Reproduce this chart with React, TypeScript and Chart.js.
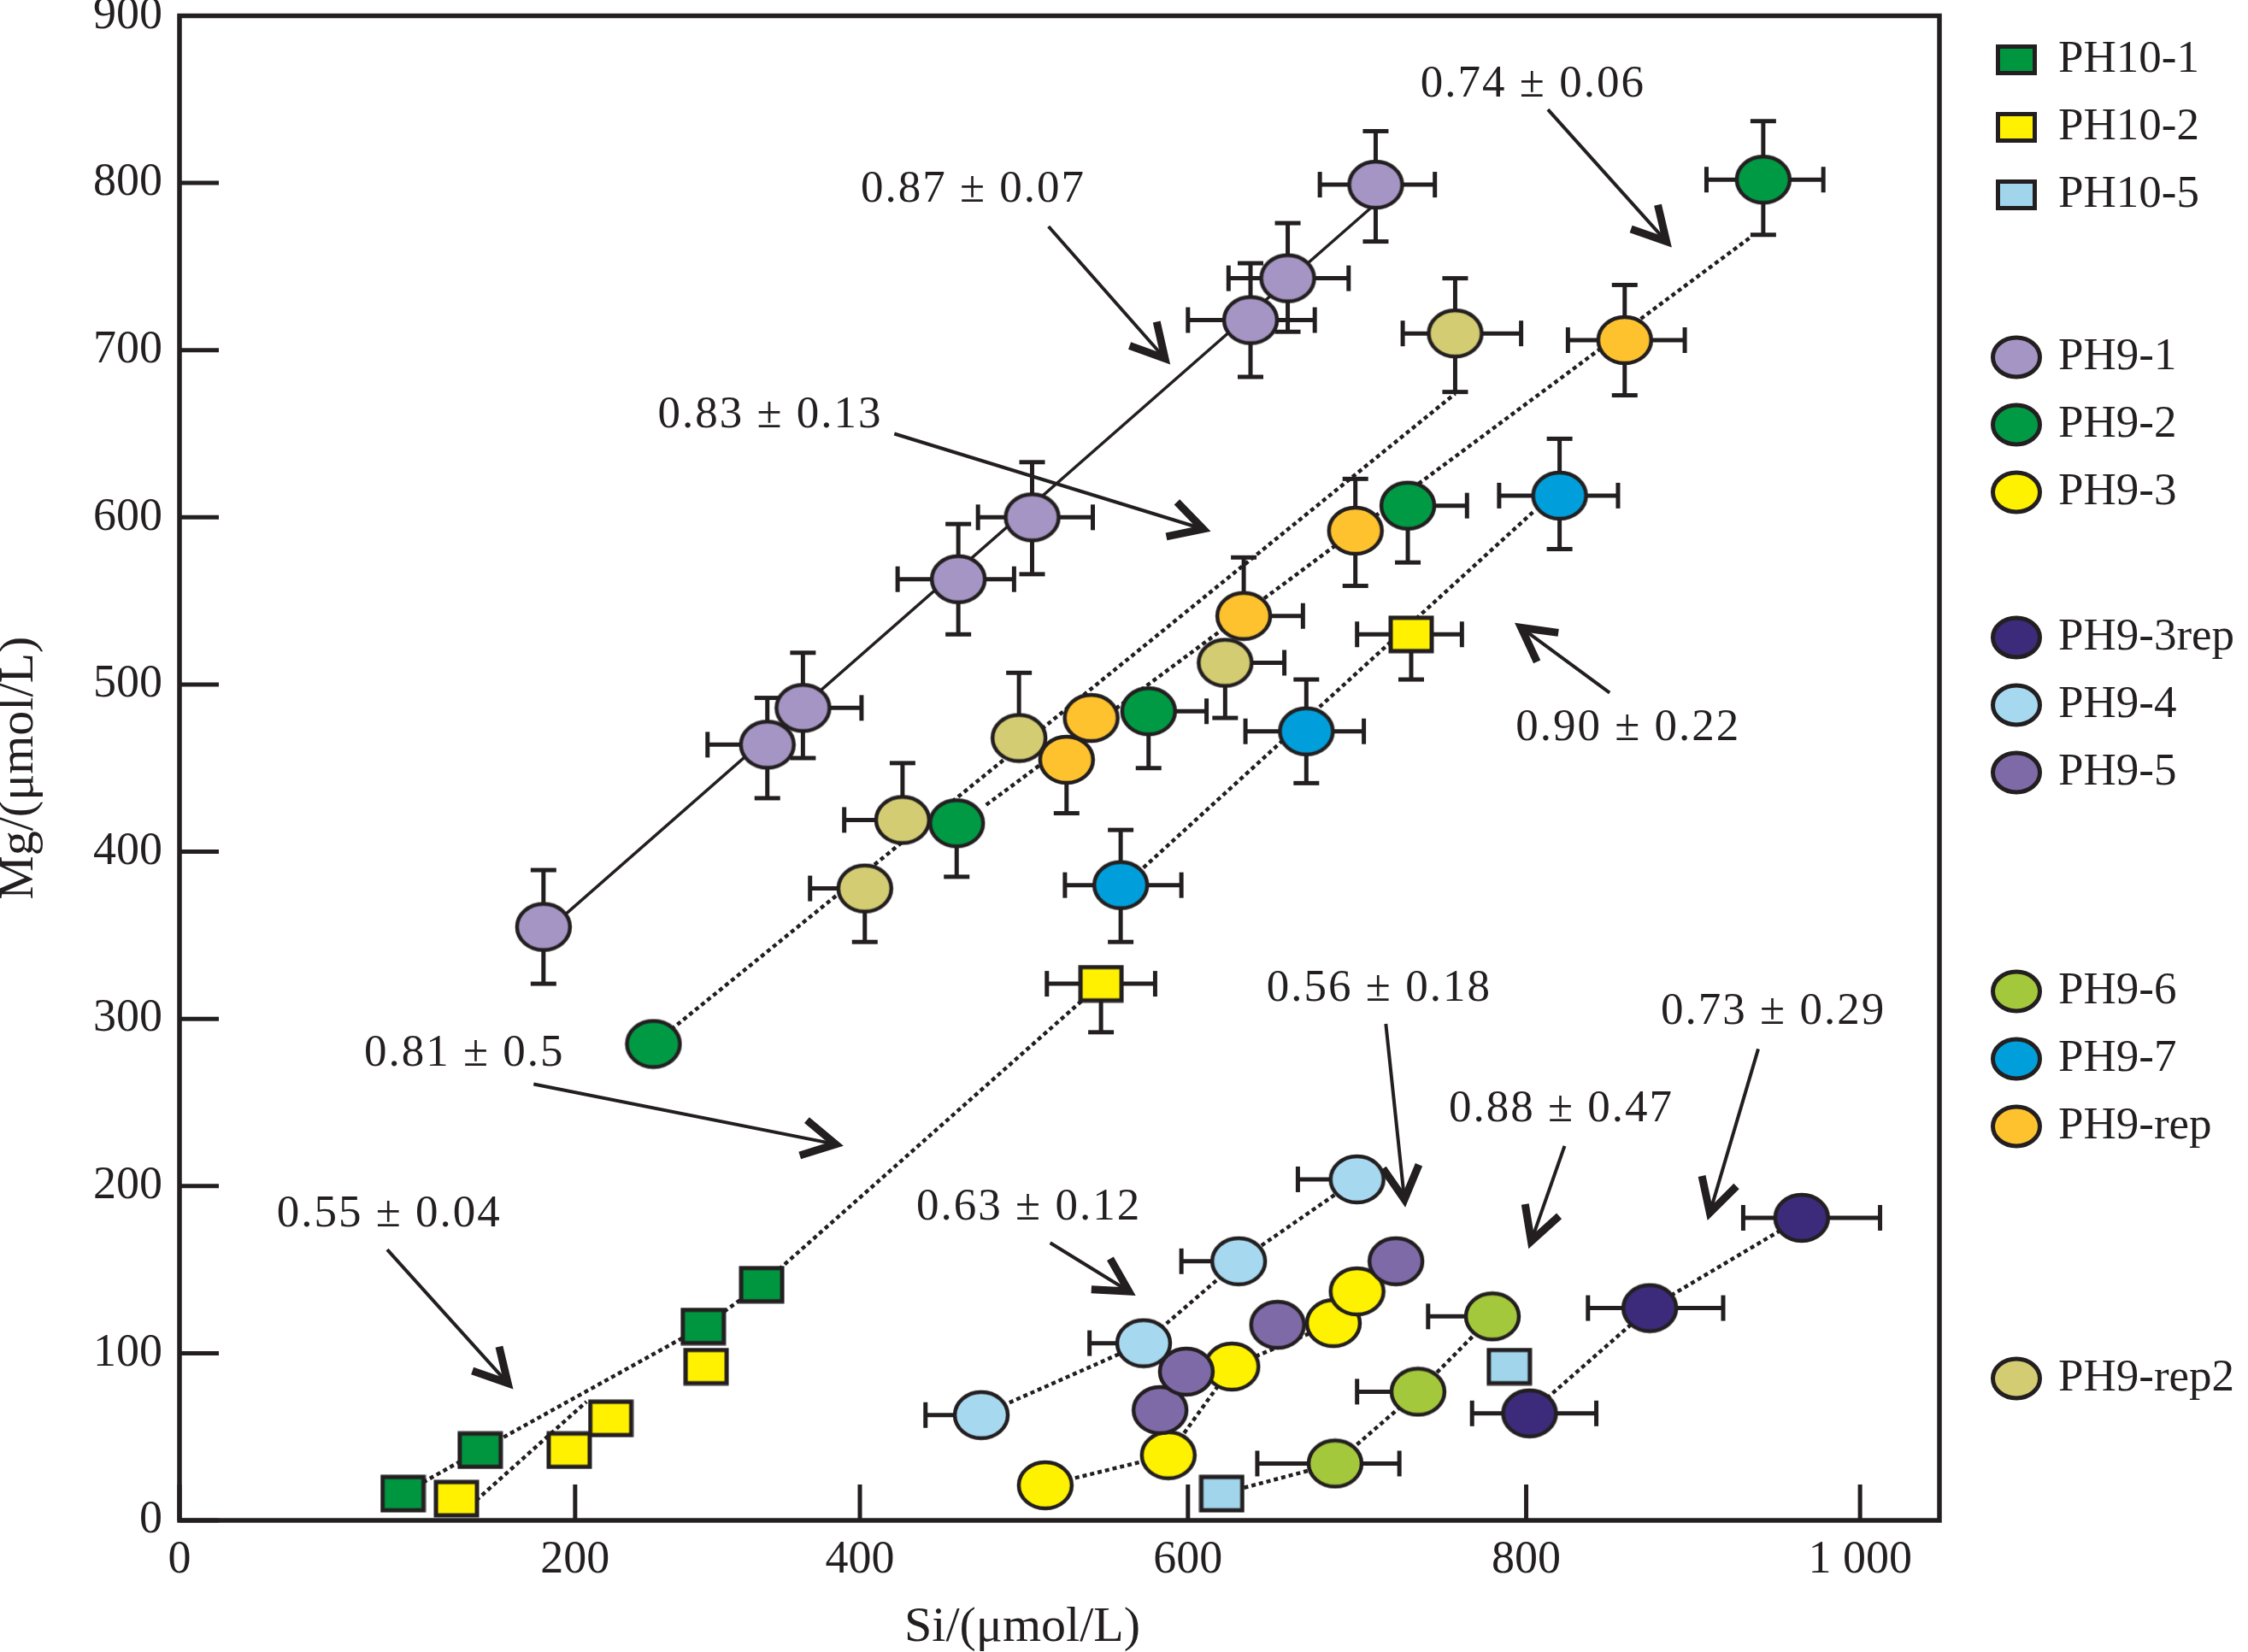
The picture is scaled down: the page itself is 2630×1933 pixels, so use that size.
import { useEffect, useRef } from "react"
import { Chart, LinearScale, registerables } from "chart.js"

const ink = "#231f20"
const serif = "'Liberation Serif', 'Times New Roman', serif"

// tick values and their printed labels
const xTicks = [0, 200, 400, 600, 800, 1000]
const xTickLabels = ["0", "200", "400", "600", "800", "1 000"]
const yTicks = [0, 100, 200, 300, 400, 500, 600, 700, 800, 900]
const yTickLabels = ["0", "100", "200", "300", "400", "500", "600", "700", "800", "900"]
const xTitle = "Si/(μmol/L)"
const yTitle = "Mg/(μmol/L)"

// samples: [Si, Mg, Si-, Si+, Mg-, Mg+]  (µmol/L)
const ph101 = [[113, 16], [152, 42], [290, 116], [331, 141]]
const ph102 = [[140, 13], [197, 42], [225, 61], [292, 92], [547, 321, 33, 33, 29, 0], [732, 530, 32, 30, 27, 0]]
const ph105 = [[620, 16], [790, 92]]
const ph91 = [
  [184, 355, 0, 0, 34, 34], [335, 464, 42, 0, 32, 28], [360, 486, 0, 41, 30, 33], [460, 563, 37, 34, 33, 33],
  [505, 600, 33, 37, 34, 33], [637, 718, 37, 38, 34, 34], [659, 743, 35, 36, 32, 33], [711, 799, 33, 35, 34, 32],
]
const ph92 = [[255, 285], [459, 417, 0, 0, 32, 0], [576, 484, 0, 35, 34, 0], [730, 607, 0, 35, 34, 0], [942, 802, 34, 36, 33, 35]]
const ph93 = [[513, 21], [588, 39], [626, 92], [686, 118], [700, 137]]
const ph93rep = [[802, 64, 34, 40], [874, 127, 37, 44], [965, 181, 35, 47]]
const ph94 = [[474, 63, 34], [573, 106, 33], [630, 155, 34], [700, 204, 35]]
const ph95 = [[583, 66], [599, 89], [653, 117], [723, 155]]
const ph96 = [[687, 34, 46, 38], [736, 77, 36], [780, 122, 38]]
const ph97 = [[559, 380, 34, 37, 34, 33], [670, 472, 36, 34, 31, 31], [820, 613, 36, 35, 32, 34]]
const ph9rep = [[526, 455, 0, 0, 32, 0], [541, 480], [633, 541, 0, 35, 0, 35], [699, 592, 0, 0, 33, 31], [859, 706, 34, 36, 33, 33]]
const ph9rep2 = [[403, 378, 38, 0, 32, 0], [426, 419, 37, 0, 0, 34], [497, 468, 0, 0, 0, 39], [622, 513, 0, 35, 33, 0], [758, 710, 31, 39, 35, 33]]

// fitted lines as drawn in the figure
const fitPh91 = [[184, 351], [708, 785]]
const fitUpper = [[255, 285], [758, 674]]
const fitMiddle = [[477, 428], [935, 768]]
const fitPh97 = [[559, 378], [805, 604]]
const fitPh10Low = [[150, 12], [208, 71]]
const tracePh10 = [...ph101, ph102[4]]
const tracePh96 = [ph105[0], ...ph96]

const slopeNotes = [
  { text: "0.87 ± 0.07", at: [469, 796], from: [515, 774], to: [586, 695] },
  { text: "0.74 ± 0.06", at: [804, 859], from: [813, 844], to: [884, 765] },
  { text: "0.83 ± 0.13", at: [337, 661], from: [421, 650], to: [609, 593] },
  { text: "0.90 ± 0.22", at: [861, 474], from: [850, 495], to: [797, 534] },
  { text: "0.81 ± 0.5", at: [144, 279], from: [179, 261], to: [383, 225] },
  { text: "0.55 ± 0.04", at: [106, 183], from: [105, 162], to: [166, 82] },
  { text: "0.56 ± 0.18", at: [713, 318], from: [717, 297], to: [728, 192] },
  { text: "0.88 ± 0.47", at: [821, 246], from: [823, 224], to: [803, 167] },
  { text: "0.73 ± 0.29", at: [948, 304], from: [939, 282], to: [910, 184] },
  { text: "0.63 ± 0.12", at: [503, 187], from: [516, 166], to: [564, 137] },
]

const series = [
  { label: "PH10-1", shape: "rect", color: "#009640", rows: ph101 },
  { label: "PH10-2", shape: "rect", color: "#fff100", rows: ph102 },
  { label: "PH10-5", shape: "rect", color: "#a0d5ec", rows: ph105 },
  { label: "PH9-1", shape: "ellipse", color: "#a595c4", rows: ph91 },
  { label: "PH9-2", shape: "ellipse", color: "#009a44", rows: ph92 },
  { label: "PH9-3", shape: "ellipse", color: "#fff200", rows: ph93 },
  { label: "PH9-3rep", shape: "ellipse", color: "#3c2a7a", rows: ph93rep },
  { label: "PH9-4", shape: "ellipse", color: "#a6d8f0", rows: ph94 },
  { label: "PH9-5", shape: "ellipse", color: "#7f6aa8", rows: ph95 },
  { label: "PH9-6", shape: "ellipse", color: "#a4c83c", rows: ph96 },
  { label: "PH9-7", shape: "ellipse", color: "#009fdb", rows: ph97 },
  { label: "PH9-rep", shape: "ellipse", color: "#fdc22e", rows: ph9rep },
  { label: "PH9-rep2", shape: "ellipse", color: "#d3cc72", rows: ph9rep2 },
]
const drawOrder = ["PH9-rep2", "PH9-rep", "PH9-1", "PH9-2", "PH9-7", "PH10-2", "PH9-4", "PH9-3", "PH9-5", "PH9-6", "PH9-3rep", "PH10-1", "PH10-5"]
const legendGroups = [["PH10-1", "PH10-2", "PH10-5"], ["PH9-1", "PH9-2", "PH9-3"], ["PH9-3rep", "PH9-4", "PH9-5"], ["PH9-6", "PH9-7", "PH9-rep"], ["PH9-rep2"]]

// the printed Si axis is not evenly spaced: where each tick sits along the axis
const xAxisValues = [0, 200, 400, 600, 800, 1000, 1047.6]
const xAxisStops = [0, 0.2248, 0.3866, 0.573, 0.7652, 0.9549, 1]

function toStop(v: number) {
  let i = 1
  while (i < xAxisValues.length - 1 && v > xAxisValues[i]) i++
  const t = (v - xAxisValues[i - 1]) / (xAxisValues[i] - xAxisValues[i - 1])
  return xAxisStops[i - 1] + t * (xAxisStops[i] - xAxisStops[i - 1])
}
function fromStop(s: number) {
  let i = 1
  while (i < xAxisStops.length - 1 && s > xAxisStops[i]) i++
  const t = (s - xAxisStops[i - 1]) / (xAxisStops[i] - xAxisStops[i - 1])
  return xAxisValues[i - 1] + t * (xAxisValues[i] - xAxisValues[i - 1])
}

class SegmentedScale extends LinearScale {
  static id = "segmented"
  getPixelForValue(value: number) {
    if (value === null || value === undefined || isNaN(value)) return NaN
    return this.getPixelForDecimal(toStop(value))
  }
  getValueForPixel(pixel: number) {
    return fromStop(this.getDecimalForPixel(pixel))
  }
}

Chart.register(...registerables, SegmentedScale)

function makeMark(shape: string, color: string) {
  const c = document.createElement("canvas")
  const g = c.getContext("2d")!
  if (shape === "rect") {
    c.width = 54
    c.height = 45
    g.fillStyle = color
    g.fillRect(3, 3, 48, 39)
    g.lineWidth = 5
    g.strokeStyle = ink
    g.strokeRect(3, 3, 48, 39)
  } else {
    c.width = 68
    c.height = 60
    g.beginPath()
    g.ellipse(34, 30, 31, 27, 0, 0, Math.PI * 2)
    g.fillStyle = color
    g.fill()
    g.lineWidth = 4.5
    g.strokeStyle = ink
    g.stroke()
  }
  return c
}

const errorBars = {
  id: "errorBars",
  beforeDatasetsDraw(chart: any) {
    const { ctx } = chart
    const xs = chart.scales.x
    const ys = chart.scales.y
    const cap = 15
    ctx.save()
    ctx.strokeStyle = ink
    ctx.lineWidth = 5
    const seg = (a: number, b: number, c: number, d: number) => {
      ctx.beginPath()
      ctx.moveTo(a, b)
      ctx.lineTo(c, d)
      ctx.stroke()
    }
    chart.data.datasets.forEach((ds: any) => {
      if (!ds.rows) return
      ds.rows.forEach((r: number[]) => {
        const [vx, vy, xm = 0, xp = 0, ym = 0, yp = 0] = r
        const px = xs.getPixelForValue(vx)
        const py = ys.getPixelForValue(vy)
        if (xm) {
          const e = xs.getPixelForValue(vx - xm)
          seg(px, py, e, py)
          seg(e, py - cap, e, py + cap)
        }
        if (xp) {
          const e = xs.getPixelForValue(vx + xp)
          seg(px, py, e, py)
          seg(e, py - cap, e, py + cap)
        }
        if (ym) {
          const e = ys.getPixelForValue(vy - ym)
          seg(px, py, px, e)
          seg(px - cap, e, px + cap, e)
        }
        if (yp) {
          const e = ys.getPixelForValue(vy + yp)
          seg(px, py, px, e)
          seg(px - cap, e, px + cap, e)
        }
      })
    })
    ctx.restore()
  },
}

const frameAndNotes = {
  id: "frameAndNotes",
  afterDatasetsDraw(chart: any) {
    const { ctx, chartArea: a } = chart
    const xs = chart.scales.x
    const ys = chart.scales.y
    ctx.save()
    ctx.strokeStyle = ink
    ctx.fillStyle = ink

    // tick marks point inwards
    ctx.lineWidth = 5
    xTicks.forEach((v) => {
      const p = xs.getPixelForValue(v)
      ctx.beginPath()
      ctx.moveTo(p, a.bottom)
      ctx.lineTo(p, a.bottom - 42)
      ctx.stroke()
    })
    yTicks.forEach((v) => {
      const p = ys.getPixelForValue(v)
      ctx.beginPath()
      ctx.moveTo(a.left, p)
      ctx.lineTo(a.left + 46, p)
      ctx.stroke()
    })
    ctx.lineWidth = 5.5
    ctx.strokeRect(a.left, a.top, a.right - a.left, a.bottom - a.top)

    // slope labels with arrows
    ctx.font = `53px ${serif}`
    ctx.textAlign = "center"
    ctx.textBaseline = "middle"
    ;(ctx as any).letterSpacing = "2px"
    slopeNotes.forEach((n) => {
      ctx.fillText(n.text, xs.getPixelForValue(n.at[0]), ys.getPixelForValue(n.at[1]))
      const x1 = xs.getPixelForValue(n.from[0])
      const y1 = ys.getPixelForValue(n.from[1])
      const x2 = xs.getPixelForValue(n.to[0])
      const y2 = ys.getPixelForValue(n.to[1])
      ctx.lineWidth = 4
      ctx.lineCap = "butt"
      ctx.beginPath()
      ctx.moveTo(x1, y1)
      ctx.lineTo(x2, y2)
      ctx.stroke()
      const ang = Math.atan2(y2 - y1, x2 - x1)
      const len = 44
      const w = 0.5
      ctx.lineWidth = 9
      ctx.lineJoin = "miter"
      ctx.beginPath()
      ctx.moveTo(x2 - len * Math.cos(ang - w), y2 - len * Math.sin(ang - w))
      ctx.lineTo(x2, y2)
      ctx.lineTo(x2 - len * Math.cos(ang + w), y2 - len * Math.sin(ang + w))
      ctx.stroke()
    })
    ctx.restore()
  },
  afterDraw(chart: any) {
    const { ctx } = chart
    const groupTops = [70, 418, 746, 1160, 1613]
    const rowGap = 79
    const markX = 2359
    const textX = 2408
    ctx.save()
    ctx.font = `53px ${serif}`
    ctx.textAlign = "left"
    ctx.textBaseline = "middle"
    ctx.strokeStyle = ink
    legendGroups.forEach((group, gi) => {
      group.forEach((name, ri) => {
        const s = series.find((d) => d.label === name)!
        const y = groupTops[gi] + ri * rowGap
        ctx.fillStyle = s.color
        ctx.lineWidth = 5
        ctx.beginPath()
        if (s.shape === "rect") {
          ctx.rect(markX - 21.5, y - 15.5, 43, 31)
        } else {
          ctx.ellipse(markX, y, 27.5, 23, 0, 0, Math.PI * 2)
        }
        ctx.fill()
        ctx.stroke()
        ctx.fillStyle = ink
        ctx.fillText(name, textX, y)
      })
    })
    // Si axis title sits a little left of the plot centre in the figure
    ctx.fillStyle = ink
    ctx.font = `58px ${serif}`
    ctx.textAlign = "center"
    ctx.fillText(xTitle, 1196, 1905)
    ctx.restore()
  },
}

const asPoints = (rows: number[][]) => rows.map((r) => ({ x: r[0], y: r[1] }))

export default function App() {
  const canvasRef = useRef<HTMLCanvasElement>(null)
  const chartRef = useRef<Chart | null>(null)

  useEffect(() => {
    document.body.style.margin = "0"
    document.body.style.overflow = "hidden"
    if (!canvasRef.current) return
    if (chartRef.current) chartRef.current.destroy()

    const line = (rows: number[][], dashed = true) => ({
      data: asPoints(rows),
      showLine: true,
      pointRadius: 0,
      pointHoverRadius: 0,
      borderColor: ink,
      borderWidth: dashed ? 4.5 : 3.5,
      borderDash: dashed ? [5, 4] : [],
      fill: false,
      tension: 0,
      order: 100,
    })

    const marks = series.map((s) => ({
      label: s.label,
      data: asPoints(s.rows),
      rows: s.rows,
      pointStyle: makeMark(s.shape, s.color),
      pointRadius: 30,
      pointHoverRadius: 30,
      showLine: false,
      clip: false,
      order: drawOrder.length - drawOrder.indexOf(s.label),
    }))

    const tickFont = { family: serif, size: 54 }
    const titleFont = { family: serif, size: 58, lineHeight: 0.8 }

    chartRef.current = new Chart(canvasRef.current, {
      type: "scatter",
      data: {
        datasets: [
          ...marks,
          line(fitPh91, false),
          line(fitUpper),
          line(fitMiddle),
          line(fitPh97),
          line(tracePh10),
          line(fitPh10Low),
          line(ph93),
          line(ph94),
          line(tracePh96),
          line(ph93rep),
        ] as any,
      },
      options: {
        animation: false,
        responsive: true,
        maintainAspectRatio: false,
        events: [],
        layout: { autoPadding: false, padding: { top: 18.5, right: 361, left: 0, bottom: 0 } },
        plugins: { legend: { display: false }, tooltip: { enabled: false } },
        scales: {
          x: {
            type: "segmented" as any,
            min: 0,
            max: 1047.6,
            grid: { display: false, drawTicks: false },
            border: { display: false },
            ticks: {
              stepSize: 200,
              includeBounds: false,
              autoSkip: false,
              maxRotation: 0,
              padding: 14,
              color: ink,
              font: tickFont,
              callback: (v: any) => xTickLabels[xTicks.indexOf(Number(v))] ?? "",
            },
            title: { display: false },
            afterFit: (s: any) => {
              s.height = 154
              s.paddingLeft = 0
              s.paddingRight = 0
            },
          },
          y: {
            type: "linear",
            min: 0,
            max: 900,
            grid: { display: false, drawTicks: false },
            border: { display: false },
            ticks: {
              stepSize: 100,
              includeBounds: false,
              autoSkip: false,
              padding: 20,
              color: ink,
              font: tickFont,
              callback: (v: any) => yTickLabels[yTicks.indexOf(Number(v))] ?? "",
            },
            title: { display: true, text: yTitle, color: ink, font: titleFont, padding: { top: 0, bottom: 0 } },
            afterFit: (s: any) => {
              s.width = 210
              s.paddingTop = 0
              s.paddingBottom = 0
            },
          },
        },
      } as any,
      plugins: [errorBars, frameAndNotes],
    })

    return () => {
      if (chartRef.current) chartRef.current.destroy()
      chartRef.current = null
    }
  }, [])

  return (
    <div style={{ width: 2630, height: 1933, position: "relative" }}>
      <canvas ref={canvasRef} />
    </div>
  )
}
